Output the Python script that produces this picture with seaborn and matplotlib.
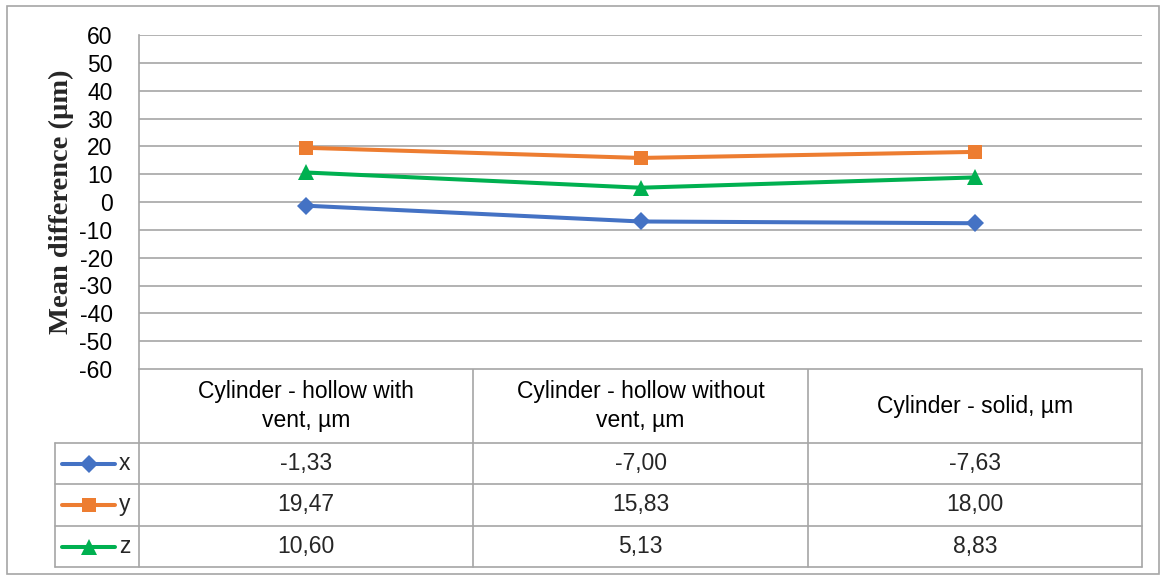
import numpy as np
import pandas as pd
import matplotlib
matplotlib.use("Agg")
import matplotlib.pyplot as plt
from matplotlib.patches import Rectangle
import seaborn as sns

# data
categories = ["Cylinder - hollow with\nvent, µm",
              "Cylinder - hollow without\nvent, µm",
              "Cylinder - solid, µm"]
series_names = ["x", "y", "z"]
x_vals = [-1.33, -7.00, -7.63]
y_vals = [19.47, 15.83, 18.00]
z_vals = [10.60, 5.13, 8.83]
yticks = list(range(-60, 61, 10))

colors = {"x": "#4472C4", "y": "#ED7D31", "z": "#00B050"}
markers = {"x": "D", "y": "s", "z": "^"}
msizes = {"x": 9, "y": 10.5, "z": 11}

df = pd.DataFrame({
    "pos": list(range(len(categories))) * 3,
    "series": np.repeat(series_names, len(categories)),
    "value": x_vals + y_vals + z_vals,
})

sns.set_theme(style="white")
plt.rcParams["font.family"] = ["Liberation Sans", "DejaVu Sans"]
plt.rcParams["axes.unicode_minus"] = False

W, H = 1164, 578
fig = plt.figure(figsize=(W / 100, H / 100), dpi=100)

# layout in pixels
left, right, top, bottom = 139, 1142, 35, 369
col_edges = [139, 473, 808, 1142]
row_edges = [369, 443, 484, 526, 567]
leg_left = 55
grey = "#A6A6A6"
fs = 16.5

ax = fig.add_axes([left / W, 1 - bottom / H, (right - left) / W, (bottom - top) / H])
for name in series_names:
    sub = df[df["series"] == name]
    sns.lineplot(data=sub, x="pos", y="value", ax=ax, color=colors[name],
                 marker=markers[name], markersize=msizes[name],
                 markeredgewidth=0, linewidth=2.9, legend=False, zorder=3)
ax.set_xlim(-0.5, len(categories) - 0.5)
ax.set_ylim(-60, 60)
ax.set_yticks(yticks)
ax.set_xticks([])
ax.set_xlabel("")
ax.set_ylabel("Mean difference (µm)", family=["Liberation Serif"], fontweight="bold",
              fontsize=20.5, labelpad=4)
ax.tick_params(axis="y", length=0, pad=19, labelsize=16.5, labelcolor="black")
ax.yaxis.grid(True, color=grey, linewidth=1.2)
for s in ["top", "right", "bottom"]:
    ax.spines[s].set_visible(False)
ax.spines["left"].set_color(grey)
ax.spines["left"].set_linewidth(1.2)

# overlay for data table and frame
ov = fig.add_axes([0, 0, 1, 1], zorder=-1)
ov.set_xlim(0, W)
ov.set_ylim(H, 0)
ov.axis("off")
ov.add_patch(Rectangle((7, 6), 1152, 568, fill=False, edgecolor=grey, linewidth=1.2))

lw = 1.2
# horizontal table lines
ov.plot([left, right], [row_edges[0]] * 2, color=grey, lw=lw)
for y in row_edges[1:]:
    ov.plot([leg_left, right], [y, y], color=grey, lw=lw)
# vertical table lines
for x in col_edges:
    ov.plot([x, x], [row_edges[0], row_edges[-1]], color=grey, lw=lw)
ov.plot([leg_left, leg_left], [row_edges[1], row_edges[-1]], color=grey, lw=lw)

# header
for i, cat in enumerate(categories):
    cx = (col_edges[i] + col_edges[i + 1]) / 2
    cy = (row_edges[0] + row_edges[1]) / 2
    ov.text(cx, cy, cat, ha="center", va="center", fontsize=fs,
            linespacing=1.3, color="black")

# rows
all_vals = {"x": x_vals, "y": y_vals, "z": z_vals}
for r, name in enumerate(series_names):
    cy = (row_edges[r + 1] + row_edges[r + 2]) / 2
    ov.plot([62, 115], [cy, cy], color=colors[name], lw=2.9)
    ov.plot([88.5], [cy], marker=markers[name], color=colors[name],
            markersize=msizes[name], markeredgewidth=0)
    ov.text(119, cy, name, ha="left", va="center", fontsize=fs)
    for i, v in enumerate(all_vals[name]):
        cx = (col_edges[i] + col_edges[i + 1]) / 2
        ov.text(cx, cy, f"{v:.2f}".replace(".", ","), ha="center", va="center",
                fontsize=fs)

fig.savefig("out.png", dpi=100, facecolor="white")
